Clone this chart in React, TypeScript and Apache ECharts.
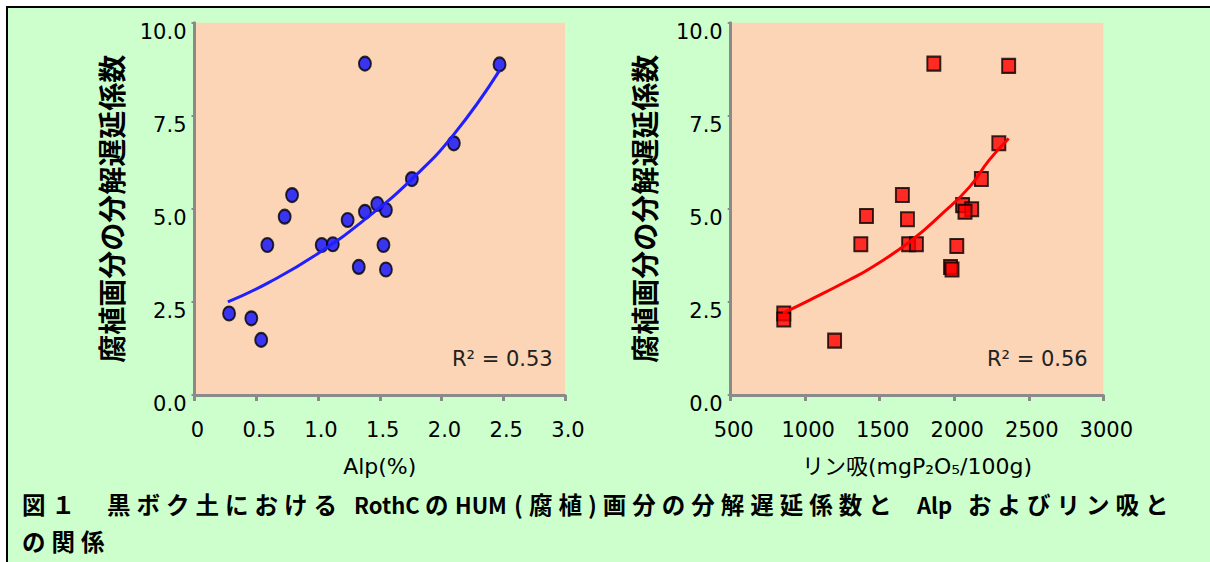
import React, { useEffect, useRef } from 'react';
import * as echarts from 'echarts';

// Left panel: Alp (%) vs decomposition delay coefficient
const alpX = [1.38, 2.47, 2.10, 1.76, 0.79, 0.73, 1.48, 1.38, 1.55, 1.24, 0.59, 1.03, 1.12, 1.53, 1.33, 1.55, 0.28, 0.46, 0.54];
const alpY = [8.90, 8.88, 6.76, 5.80, 5.37, 4.79, 5.13, 4.92, 4.97, 4.70, 4.03, 4.03, 4.05, 4.03, 3.44, 3.37, 2.19, 2.06, 1.48];
// Left trendline
const alpTrendX = [0.27, 0.6, 1.0, 1.4, 1.76, 2.1, 2.47];
const alpTrendY = [2.50, 3.02, 3.80, 4.77, 5.80, 7.00, 8.72];

// Right panel: phosphate absorption coefficient vs coefficient
const pX = [1863, 2365, 2299, 2182, 1652, 1411, 1686, 2056, 2117, 2072, 1373, 1694, 1746, 2017, 1975, 1985, 856, 856, 1197];
const pY = [8.90, 8.84, 6.76, 5.80, 5.37, 4.81, 4.72, 5.10, 4.99, 4.92, 4.05, 4.05, 4.05, 4.00, 3.44, 3.37, 2.19, 2.03, 1.46];
// Right trendline
const pTrendX = [850, 1030, 1294, 1451, 1712, 1921, 2103, 2234, 2365];
const pTrendY = [2.20, 2.55, 3.09, 3.44, 4.15, 4.88, 5.59, 6.31, 6.89];

const yTickLabels = ['0.0', '2.5', '5.0', '7.5', '10.0'];
const alpTickLabels = ['0', '0.5', '1.0', '1.5', '2.0', '2.5', '3.0'];
const pTickLabels = ['500', '1000', '1500', '2000', '2500', '3000'];

const yTitle = '腐植画分の分解遅延係数';
const leftXTitle = 'Alp(%)';
const rightXTitle = 'リン吸(mgP₂O₅/100g)';
const leftR2 = 'R² = 0.53';
const rightR2 = 'R² = 0.56';
// Caption pieces: spaced Japanese runs and condensed Latin runs
const captionJa = ['図１', '黒ボク土における', 'の', '(腐植)画分の分解遅延係数と', 'およびリン吸と'];
const captionLatin = ['RothC', 'HUM', 'Alp'];
const caption2 = 'の関係';

const LATIN = '"DejaVu Sans", "Noto Sans CJK JP", sans-serif';
const CJK = '"Noto Sans CJK JP", sans-serif';
const AXIS_GRAY = '#8a8a8a';
const ELLIPSE = 'path://M0,-1A1,1 0 1,1 0,1A1,1 0 1,1 0,-1Z';

const jaX = [22, 107, 425, 514, 968];
const latinX = [354, 455, 917];
const LINE1_Y = 504;
const LINE2_Y = 541;

function yAxisCfg(gridIndex: number, nameGap: number) {
  return {
    type: 'value',
    gridIndex,
    min: 0,
    max: 10,
    interval: 2.5,
    name: yTitle,
    nameLocation: 'middle',
    nameRotate: 90,
    nameGap,
    nameTextStyle: { fontFamily: CJK, fontSize: 28, fontWeight: 'bold', color: '#000' },
    axisLine: { show: true, lineStyle: { color: AXIS_GRAY, width: 3 } },
    axisTick: { show: true, length: 3, lineStyle: { color: AXIS_GRAY, width: 2 } },
    splitLine: { show: false },
    axisLabel: {
      margin: 8,
      fontFamily: LATIN,
      fontSize: 21,
      color: '#000',
      verticalAlign: 'top',
      lineHeight: 18,
      formatter: (v: number) => yTickLabels[Math.round(v / 2.5)] ?? '',
    },
  };
}

function xAxisCfg(gridIndex: number, min: number, max: number, interval: number, labels: string[], name: string) {
  return {
    type: 'value',
    gridIndex,
    min,
    max,
    interval,
    name,
    nameLocation: 'middle',
    nameGap: 60,
    nameTextStyle: { fontFamily: LATIN, fontSize: 22, color: '#000' },
    axisLine: { show: true, onZero: false, lineStyle: { color: AXIS_GRAY, width: 3 } },
    axisTick: { show: true, length: 6, lineStyle: { color: AXIS_GRAY, width: 3 } },
    splitLine: { show: false },
    axisLabel: {
      margin: 24,
      fontFamily: LATIN,
      fontSize: 21,
      color: '#000',
      padding: [0, 0, 0, 6],
      formatter: (v: number) => labels[Math.round((v - min) / interval)] ?? '',
    },
  };
}

export default function App() {
  const ref = useRef<HTMLDivElement>(null);
  const capRef = useRef<HTMLDivElement>(null);
  useEffect(() => {
    if (!ref.current || !capRef.current) return;
    const chart = echarts.init(ref.current, null, { renderer: 'svg' });
    const cap = echarts.init(capRef.current, null, { renderer: 'svg' });
    const option: any = {
      animation: false,
      backgroundColor: 'transparent',
      grid: [
        { left: 194.5, top: 22.7, width: 370.5, height: 372.3, show: true, backgroundColor: '#FBD5B5', borderWidth: 0 },
        { left: 730.7, top: 22.7, width: 372.6, height: 372.3, show: true, backgroundColor: '#FBD5B5', borderWidth: 0 },
      ],
      xAxis: [
        xAxisCfg(0, 0, 3, 0.5, alpTickLabels, leftXTitle),
        xAxisCfg(1, 500, 3000, 500, pTickLabels, rightXTitle),
      ],
      yAxis: [yAxisCfg(0, 70), yAxisCfg(1, 73)],
      series: [
        {
          type: 'scatter',
          xAxisIndex: 0,
          yAxisIndex: 0,
          symbol: ELLIPSE,
          symbolSize: [12, 14],
          itemStyle: { color: '#0a0aff', borderColor: '#000', borderWidth: 2 },
          data: alpX.map((x, i) => [x, alpY[i]]),
          z: 3,
        },
        {
          type: 'line',
          xAxisIndex: 0,
          yAxisIndex: 0,
          smooth: true,
          showSymbol: false,
          lineStyle: { color: '#1f1fff', width: 3 },
          data: alpTrendX.map((x, i) => [x, alpTrendY[i]]),
          z: 4,
        },
        {
          type: 'scatter',
          xAxisIndex: 1,
          yAxisIndex: 1,
          symbol: 'rect',
          symbolSize: [13, 14],
          itemStyle: { color: '#ff0000', borderColor: '#000', borderWidth: 2 },
          data: pX.map((x, i) => [x, pY[i]]),
          z: 3,
        },
        {
          type: 'line',
          xAxisIndex: 1,
          yAxisIndex: 1,
          smooth: true,
          showSymbol: false,
          lineStyle: { color: '#ff0000', width: 3 },
          data: pTrendX.map((x, i) => [x, pTrendY[i]]),
          z: 4,
        },
      ],
      graphic: [
        {
          type: 'text', left: 452, top: 348, z: 10,
          style: { text: leftR2, fontFamily: LATIN, fontSize: 21, fill: '#222' },
        },
        {
          type: 'text', left: 987, top: 348, z: 10,
          style: { text: rightR2, fontFamily: LATIN, fontSize: 21, fill: '#222' },
        },
        ...captionLatin.map((t, i) => ({
          type: 'text', x: latinX[i], y: LINE1_Y, z: 10,
          style: {
            text: t, fontFamily: CJK, fontSize: 22, fontWeight: 'bold', fill: '#000',
            textAlign: 'left', textVerticalAlign: 'middle',
          },
        })),
      ],
    };
    chart.setOption(option);

    const capOption: any = {
      animation: false,
      backgroundColor: 'transparent',
      graphic: [
        ...captionJa.map((t, i) => ({
          type: 'text', x: jaX[i], y: LINE1_Y,
          style: {
            text: t, fontFamily: CJK, fontSize: 23.5, fontWeight: 'bold', fill: '#000',
            textAlign: 'left', textVerticalAlign: 'middle',
          },
        })),
        {
          type: 'text', x: 22, y: LINE2_Y,
          style: {
            text: caption2, fontFamily: CJK, fontSize: 23.5, fontWeight: 'bold', fill: '#000',
            textAlign: 'left', textVerticalAlign: 'middle',
          },
        },
      ],
    };
    cap.setOption(capOption);
    return () => {
      chart.dispose();
      cap.dispose();
    };
  }, []);

  return (
    <div style={{ position: 'absolute', left: 0, top: 0, width: 1210, height: 562, background: '#fff', overflow: 'hidden' }}>
      <div
        style={{
          position: 'absolute', left: 6, top: 6, width: 1300, height: 700,
          background: '#CCFFCC', borderLeft: '2px solid #000', borderTop: '2px solid #000',
        }}
      />
      <div ref={ref} style={{ position: 'absolute', left: 0, top: 0, width: 1210, height: 562 }} />
      <div
        ref={capRef}
        style={{
          position: 'absolute', left: 0, top: 0, width: 1210, height: 562,
          letterSpacing: '6px', pointerEvents: 'none',
        }}
      />
    </div>
  );
}
